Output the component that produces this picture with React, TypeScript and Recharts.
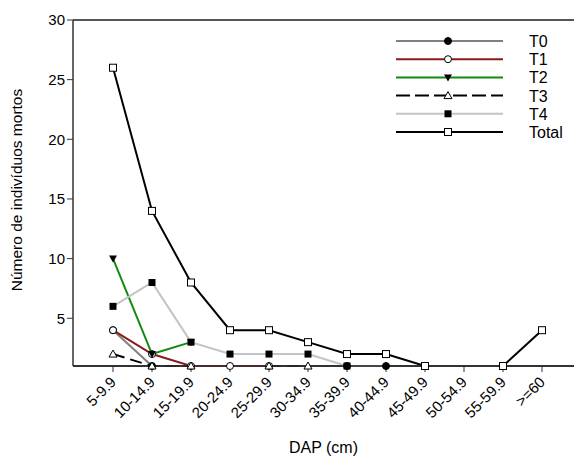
import { Line, LineChart, XAxis, YAxis } from "recharts";

const categories = [
  "5-9.9", "10-14.9", "15-19.9", "20-24.9", "25-29.9", "30-34.9",
  "35-39.9", "40-44.9", "45-49.9", "50-54.9", "55-59.9", ">=60",
];
const t0 = [4, 1, null, null, null, null, 1, 1, null, null, null, null];
const t1 = [4, 2, 1, 1, 1, null, null, null, null, null, null, null];
const t2 = [10, 2, 3, null, null, null, null, null, null, null, null, null];
const t3 = [2, 1, 1, null, 1, 1, null, null, null, null, null, null];
const t4 = [6, 8, 3, 2, 2, 2, 1, null, null, null, null, null];
const total = [26, 14, 8, 4, 4, 3, 2, 2, 1, null, 1, 4];
const yTicks = [5, 10, 15, 20, 25, 30];

const data = categories.map((c, i) => ({
  cat: c, T0: t0[i], T1: t1[i], T2: t2[i], T3: t3[i], T4: t4[i], Total: total[i],
}));

const FONT = "'Liberation Sans', Arial, sans-serif";
const AXIS = "#333";

type MarkerKind = "dot" | "circle" | "tri-down" | "tri-up" | "square" | "open-square";

function Marker({ kind, cx, cy }: { kind: MarkerKind; cx: number; cy: number }) {
  const r = 3.5;
  switch (kind) {
    case "dot":
      return <circle cx={cx} cy={cy} r={r} fill="#000" stroke="#000" strokeWidth={1} />;
    case "circle":
      return <circle cx={cx} cy={cy} r={r} fill="#fff" stroke="#000" strokeWidth={1} />;
    case "tri-down":
      return <polygon points={`${cx - 4},${cy - 3} ${cx + 4},${cy - 3} ${cx},${cy + 4}`} fill="#000" />;
    case "tri-up":
      return <polygon points={`${cx - 4},${cy + 3} ${cx + 4},${cy + 3} ${cx},${cy - 4}`} fill="#fff" stroke="#000" strokeWidth={1} />;
    case "square":
      return <rect x={cx - 3.5} y={cy - 3.5} width={7} height={7} fill="#000" />;
    default:
      return <rect x={cx - 3.5} y={cy - 3.5} width={7} height={7} fill="#fff" stroke="#000" strokeWidth={1} />;
  }
}

const series: { key: string; color: string; kind: MarkerKind; dash?: string; width: number }[] = [
  { key: "T0", color: "#808080", kind: "dot", width: 2 },
  { key: "T1", color: "#8b1a1a", kind: "circle", width: 2 },
  { key: "T2", color: "#128a12", kind: "tri-down", width: 2 },
  { key: "T3", color: "#000", kind: "tri-up", dash: "12 6", width: 2 },
  { key: "T4", color: "#c4c4c4", kind: "square", width: 2 },
  { key: "Total", color: "#000", kind: "open-square", width: 2 },
];

function makeDot(kind: MarkerKind, name: string) {
  return (props: any) => {
    const { cx, cy, index, value } = props;
    if (value == null || cx == null || cy == null) return <g key={`${name}-${index}`} />;
    return (
      <g key={`${name}-${index}`}>
        <Marker kind={kind} cx={cx} cy={cy} />
      </g>
    );
  };
}

function XTick({ x, y, payload }: any) {
  return (
    <g transform={`translate(${x + 4},${y + 9})`}>
      <text x={0} y={0} textAnchor="end" transform="rotate(-45)" fontSize={15} fontFamily={FONT} fill="#000">
        {payload.value}
      </text>
    </g>
  );
}

function LegendBox() {
  return (
    <svg width={180} height={115} style={{ position: "absolute", left: 393, top: 32 }}>
      {series.map((s, i) => {
        const y = 9 + i * 18.2;
        return (
          <g key={s.key}>
            <line x1={3} x2={110} y1={y} y2={y} stroke={s.color} strokeWidth={2} strokeDasharray={s.dash ? "14 5" : undefined} />
            <Marker kind={s.kind} cx={55} cy={y} />
            <text x={136} y={y + 6} fontSize={16} fontFamily={FONT} fill="#000">{s.key}</text>
          </g>
        );
      })}
    </svg>
  );
}

export default function App() {
  return (
    <div style={{ position: "absolute", left: 0, top: 0, width: 574, height: 459, background: "#fff" }}>
      {/* plot frame: top border and x baseline, behind the chart svg */}
      <div style={{ position: "absolute", left: 73, top: 19, width: 501, height: 0, borderTop: "2px solid #555" }} />
      <div style={{ position: "absolute", left: 73, top: 365, width: 501, height: 0, borderTop: "2px solid #333" }} />
      <LineChart width={574} height={459} data={data} margin={{ top: 20, right: 0, bottom: 0, left: 0 }}>
        <XAxis
          dataKey="cat"
          padding={{ left: 40, right: 32 }}
          height={93}
          tickSize={6}
          tick={<XTick />}
          interval={0}
          axisLine={{ stroke: AXIS, strokeWidth: 1.5 }}
          tickLine={{ stroke: AXIS }}
          label={{ value: "DAP (cm)", position: "insideBottom", offset: 6, fontSize: 16, fontFamily: FONT, fill: "#000" }}
        />
        <YAxis
          type="number"
          domain={[1, 30]}
          ticks={yTicks}
          width={73}
          tickSize={6}
          axisLine={{ stroke: AXIS, strokeWidth: 1.5 }}
          tickLine={{ stroke: AXIS }}
          tick={{ fontSize: 15, fontFamily: FONT, fill: "#000" }}
          label={{
            content: () => (
              <text x={22} y={190} transform="rotate(-90 22 190)" textAnchor="middle" fontSize={15.5} fontFamily={FONT} fill="#000">
                Número de indivíduos mortos
              </text>
            ),
          }}
        />
        {series.map((s) => (
          <Line
            key={s.key}
            type="linear"
            dataKey={s.key}
            stroke={s.color}
            strokeWidth={s.width}
            strokeDasharray={s.dash}
            dot={makeDot(s.kind, s.key)}
            activeDot={false}
            isAnimationActive={false}
          />
        ))}
      </LineChart>
      <LegendBox />
    </div>
  );
}
